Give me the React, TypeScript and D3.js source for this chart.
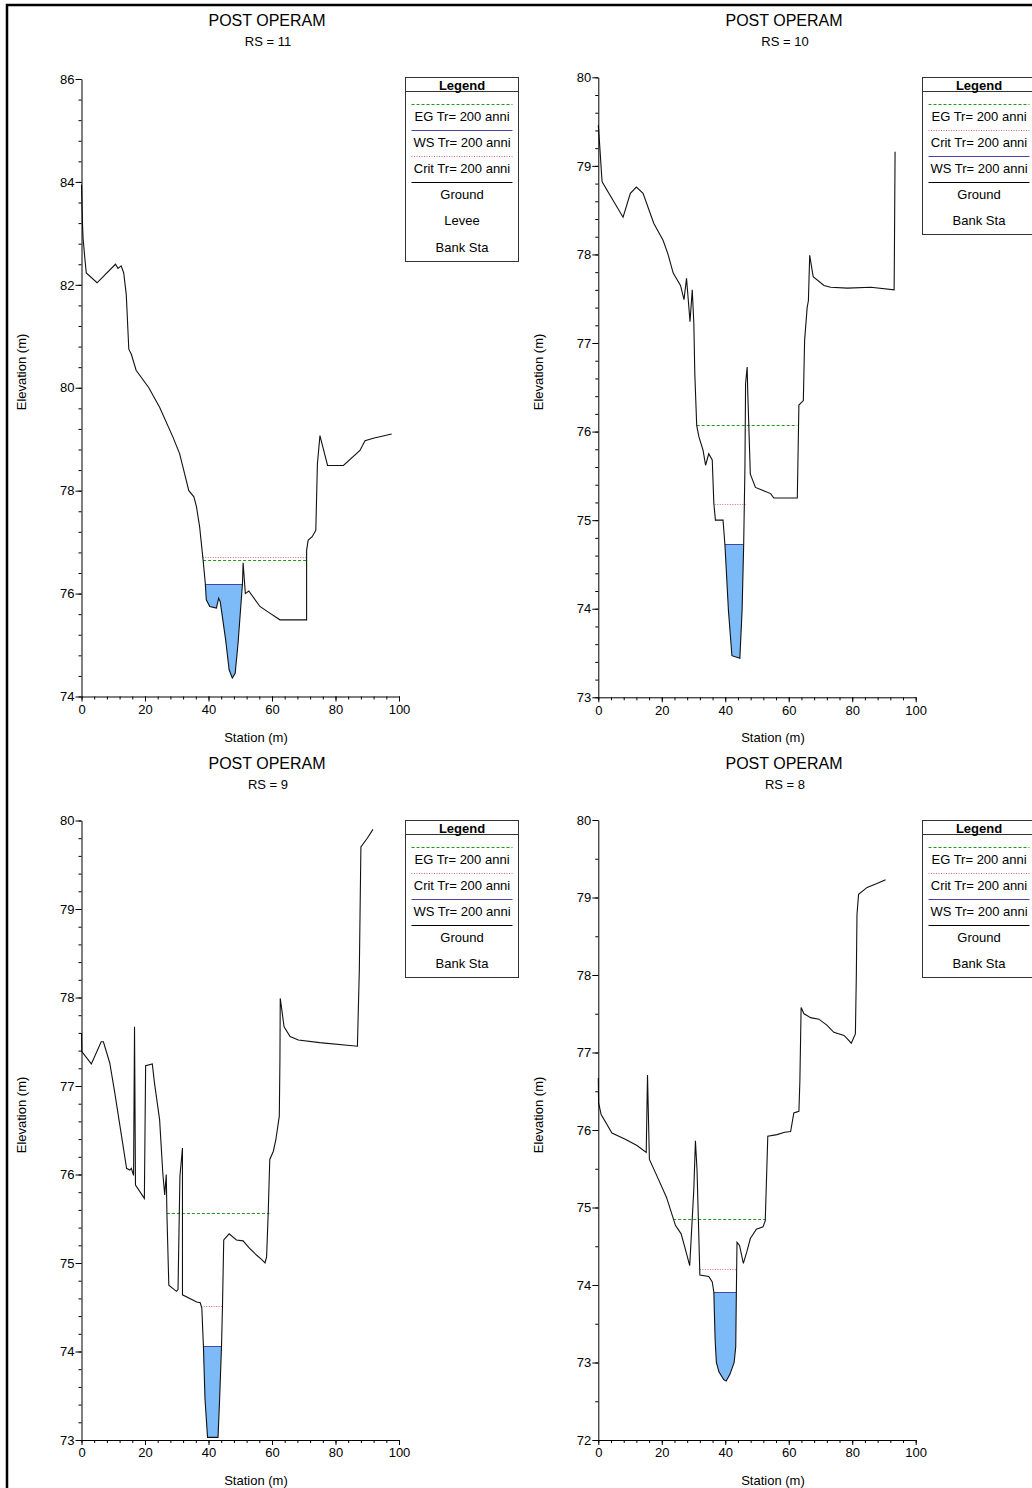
import React, { useEffect, useRef } from 'react';
import * as d3 from 'd3';

// Ground profiles, one pair of arrays per river station (station m, elevation m)
const rs11Station = [0, 0.3, 0.5, 1.0, 1.5, 4.9, 10.7, 11.5, 12.5, 13.3, 14.1, 14.9, 15.7, 17.2, 21.2, 24.6, 28.8, 30.9, 33.8, 35.4, 36.2, 37.2, 38.3, 39.0, 39.3, 40.4, 42.5, 43.2, 43.7, 45.4, 46.5, 47.5, 48.4, 49.3, 50.7, 50.9, 51.6, 52.7, 56.2, 59.3, 62.5, 70.9, 70.9, 71.4, 72.6, 73.8, 74.3, 75.1, 77.5, 82.5, 87.7, 89.3, 91.9, 97.7];
const rs11Elevation = [83.95, 83.2, 82.9, 82.55, 82.23, 82.04, 82.4, 82.32, 82.37, 82.23, 81.81, 80.75, 80.65, 80.34, 80.0, 79.62, 79.04, 78.72, 78.0, 77.88, 77.69, 77.3, 76.65, 76.19, 75.88, 75.75, 75.72, 75.91, 75.84, 75.1, 74.52, 74.36, 74.45, 75.03, 76.19, 76.6, 76.0, 76.05, 75.75, 75.62, 75.49, 75.49, 76.84, 77.04, 77.1, 77.23, 78.52, 79.07, 78.49, 78.49, 78.78, 78.97, 79.02, 79.1];

const rs10Station = [0, 0.5, 1.0, 1.2, 7.8, 10.1, 12.0, 14.1, 17.5, 20.4, 21.9, 23.6, 25.9, 27.0, 27.8, 28.9, 29.6, 30.1, 30.4, 31.0, 31.7, 33.0, 33.8, 34.8, 35.9, 36.4, 36.9, 39.3, 39.9, 41.0, 42.1, 44.6, 45.3, 45.8, 46.2, 46.4, 46.9, 47.1, 47.9, 49.5, 54.3, 55.3, 62.7, 63.2, 64.6, 65.0, 65.8, 66.2, 66.6, 67.7, 71.1, 73.2, 78.5, 85.9, 93.2, 93.3, 93.5];
const rs10Elevation = [79.46, 79.2, 78.92, 78.82, 78.42, 78.69, 78.76, 78.69, 78.35, 78.16, 78.01, 77.79, 77.65, 77.49, 77.73, 77.24, 77.6, 77.22, 76.66, 76.07, 75.94, 75.79, 75.62, 75.75, 75.68, 75.19, 75.0, 75.0, 74.72, 73.98, 73.47, 73.44, 73.98, 74.72, 75.6, 76.54, 76.73, 76.43, 75.52, 75.37, 75.3, 75.25, 75.25, 76.3, 76.35, 77.03, 77.4, 77.48, 77.99, 77.75, 77.65, 77.63, 77.62, 77.63, 77.6, 78.05, 79.16];

const rs9Station = [0, 0.1, 3.1, 6.2, 6.9, 8.9, 10.5, 14.2, 15.2, 15.7, 16.4, 16.7, 17.0, 19.8, 20.2, 22.3, 23.0, 24.6, 25.6, 26.2, 26.7, 26.9, 27.5, 29.9, 30.4, 31.0, 31.8, 31.8, 36.3, 37.4, 37.9, 38.4, 38.9, 39.7, 43.0, 43.5, 44.1, 44.4, 44.8, 46.5, 48.8, 50.9, 52.8, 55.1, 56.7, 57.8, 58.3, 58.8, 59.3, 60.4, 61.2, 62.3, 62.5, 62.6, 63.8, 65.7, 68.3, 75.0, 86.9, 87.5, 88.0, 90.0, 91.8];
const rs9Elevation = [77.6, 77.39, 77.25, 77.5, 77.5, 77.26, 76.92, 76.07, 76.05, 76.07, 75.99, 77.67, 75.88, 75.73, 77.23, 77.25, 77.03, 76.62, 76.02, 75.77, 76.0, 75.56, 74.75, 74.68, 74.7, 75.98, 76.3, 74.64, 74.56, 74.55, 74.49, 74.06, 73.46, 73.03, 73.03, 73.46, 74.06, 74.51, 75.26, 75.33, 75.26, 75.25, 75.17, 75.09, 75.04, 75.0, 75.07, 75.56, 76.17, 76.26, 76.39, 76.66, 77.3, 77.99, 77.67, 77.56, 77.52, 77.49, 77.45, 78.3, 79.7, 79.8, 79.9];

const rs8Station = [0, 0.1, 0.9, 4.3, 8.5, 12.2, 15.1, 15.5, 16.1, 18.0, 21.5, 24.3, 26.1, 27.5, 28.8, 30.1, 30.6, 31.1, 32.0, 34.8, 35.9, 36.4, 36.8, 37.2, 38.0, 39.5, 40.3, 41.5, 42.8, 43.3, 43.5, 43.7, 44.5, 45.7, 46.8, 47.9, 49.8, 51.9, 52.6, 53.4, 56.3, 58.7, 60.6, 61.6, 63.2, 63.5, 63.9, 64.8, 66.9, 69.5, 72.1, 74.2, 77.4, 78.4, 79.7, 81.0, 81.3, 81.5, 82.0, 84.7, 87.8, 90.5];
const rs8Elevation = [76.67, 76.35, 76.2, 75.96, 75.88, 75.8, 75.71, 76.71, 75.62, 75.45, 75.13, 74.77, 74.66, 74.45, 74.25, 75.24, 75.86, 75.49, 74.13, 74.11, 74.04, 73.91, 73.3, 73.0, 72.88, 72.78, 72.76, 72.85, 73.0, 73.2, 73.91, 74.55, 74.51, 74.28, 74.43, 74.6, 74.72, 74.75, 74.83, 75.92, 75.94, 75.97, 75.98, 76.22, 76.24, 76.62, 77.58, 77.5, 77.45, 77.43, 77.35, 77.26, 77.22, 77.18, 77.12, 77.24, 78.01, 78.78, 79.04, 79.13, 79.18, 79.23];

// Water levels (Tr = 200 anni) and the stations where each level meets the ground
const riverStations = ['11', '10', '9', '8'];
const egLevels = [76.66, 76.08, 75.57, 74.85];
const egExtents = [[38.3, 70.9], [31.0, 62.7], [26.9, 59.2], [23.6, 52.6]];
const critLevels = [76.72, 75.18, 74.51, 74.21];
const critExtents = [[38.2, 70.9], [36.7, 46.4], [37.7, 44.3], [32.0, 43.5]];
const wsLevels = [76.18, 74.73, 74.06, 73.91];
const wsExtents = [[39.0, 50.8], [39.9, 45.8], [38.4, 44.1], [36.4, 43.5]];

// Axes
const elevationDomains = [[74, 86], [73, 80], [73, 80], [72, 80]];
const elevationMajorStep = [2, 1, 1, 1];
const elevationMinorStep = [0.4, 0.2, 0.2, 0.5];
const stationTicks = [0, 20, 40, 60, 80, 100];

// Legends
const legendRS11 = ['EG Tr= 200 anni', 'WS Tr= 200 anni', 'Crit Tr= 200 anni', 'Ground', 'Levee', 'Bank Sta'];
const legendOthers = ['EG Tr= 200 anni', 'Crit Tr= 200 anni', 'WS Tr= 200 anni', 'Ground', 'Bank Sta'];

const FONT = '"Liberation Sans", Arial, sans-serif';
const WATER = '#7dbbf8';
const EG_COLOR = '#1f9a1f';
const WS_COLOR = '#4646a8';
const CRIT_COLOR = '#e06a6a';

const profiles = [
  [rs11Station, rs11Elevation],
  [rs10Station, rs10Elevation],
  [rs9Station, rs9Elevation],
  [rs8Station, rs8Elevation],
];
const legends = [legendRS11, legendOthers, legendOthers, legendOthers];

// plot box (pixels) for each panel: [left, right, top, bottom]
const boxes = [
  [81.5, 399, 79, 696.5],
  [598.3, 915.7, 77.3, 697.3],
  [81.5, 399, 820.5, 1440],
  [598.3, 915.7, 820, 1440],
];

// snap a horizontal line to the pixel grid so thin dashes stay crisp
const crisp = (v: number) => Math.round(v) + 0.5;

const lineStyle = (label: string) => {
  if (label.startsWith('EG')) return { stroke: EG_COLOR, dash: '3,2' };
  if (label.startsWith('WS')) return { stroke: WS_COLOR, dash: null };
  if (label.startsWith('Crit')) return { stroke: CRIT_COLOR, dash: '1,1.5' };
  if (label === 'Ground') return { stroke: '#000', dash: null };
  return null;
};

const App = () => {
  const ref = useRef<SVGSVGElement>(null);

  useEffect(() => {
    const svg = d3.select(ref.current);
    svg.selectAll('*').remove();

    // outer frame
    svg.append('rect')
      .attr('x', 7).attr('y', 5)
      .attr('width', 1100).attr('height', 1600)
      .attr('fill', 'none').attr('stroke', '#000').attr('stroke-width', 2.5);

    const defs = svg.append('defs');

    profiles.forEach(([stations, elevs], i) => {
      const col = i % 2;
      const row = Math.floor(i / 2);
      const ox = col * 517;
      const oy = row * 743;
      const [left, right, top, bottom] = boxes[i];
      const domain = elevationDomains[i];

      const x = d3.scaleLinear().domain([0, 100]).range([left, right]);
      const y = d3.scaleLinear().domain(domain).range([bottom, top]);
      const pts = stations.map((s, k) => [s, elevs[k]] as [number, number]);

      const g = svg.append('g');

      // titles
      g.append('text').attr('x', 267 + ox).attr('y', 26 + oy)
        .attr('text-anchor', 'middle').attr('font-size', 16).attr('font-family', FONT)
        .text('POST OPERAM');
      g.append('text').attr('x', 268 + ox).attr('y', 46 + oy)
        .attr('text-anchor', 'middle').attr('font-size', 13).attr('font-family', FONT)
        .text(`RS = ${riverStations[i]}`);

      // axis titles
      g.append('text').attr('x', 256 + ox).attr('y', 742 + oy)
        .attr('text-anchor', 'middle').attr('font-size', 13).attr('font-family', FONT)
        .text('Station (m)');
      g.append('text')
        .attr('transform', `translate(${26 + ox},${372 + oy}) rotate(-90)`)
        .attr('text-anchor', 'middle').attr('font-size', 13).attr('font-family', FONT)
        .text('Elevation (m)');

      // water fill: area between WS and ground, clipped to the wetted extent
      const ws = wsLevels[i];
      const [w0, w1] = wsExtents[i];
      const clipId = `ws-clip-${i}`;
      defs.append('clipPath').attr('id', clipId).append('rect')
        .attr('x', x(w0)).attr('y', crisp(y(ws)))
        .attr('width', x(w1) - x(w0)).attr('height', y(domain[0]) - y(ws));
      const area = d3.area<[number, number]>()
        .x(d => x(d[0]))
        .y0(crisp(y(ws)))
        .y1(d => y(d[1]));
      g.append('path').datum(pts).attr('d', area)
        .attr('fill', WATER).attr('clip-path', `url(#${clipId})`);

      // water levels
      const level = (lv: number, ext: number[], color: string, dash: string | null) => {
        const l = g.append('line')
          .attr('x1', x(ext[0])).attr('x2', x(ext[1]))
          .attr('y1', crisp(y(lv))).attr('y2', crisp(y(lv)))
          .attr('stroke', color).attr('stroke-width', 1);
        if (dash) l.attr('stroke-dasharray', dash);
      };
      level(critLevels[i], critExtents[i], CRIT_COLOR, '1,1.5');
      level(egLevels[i], egExtents[i], EG_COLOR, '3,2');
      level(ws, wsExtents[i], WS_COLOR, null);

      // ground
      const line = d3.line<[number, number]>().x(d => x(d[0])).y(d => y(d[1]));
      g.append('path').datum(pts).attr('d', line)
        .attr('fill', 'none').attr('stroke', '#111').attr('stroke-width', 1.1);

      // y axis: major and minor ticks
      const major = d3.range(domain[0], domain[1] + 1e-9, elevationMajorStep[i]);
      const minor = d3.range(domain[0], domain[1] + 1e-9, elevationMinorStep[i]);
      g.append('g').attr('transform', `translate(${left},0)`)
        .call(d3.axisLeft(y).tickValues(minor).tickSize(3).tickSizeOuter(0).tickFormat(() => ''))
        .call(a => a.select('.domain').remove());
      g.append('g').attr('transform', `translate(${left},0)`)
        .call(d3.axisLeft(y).tickValues(major).tickSize(6).tickSizeOuter(0).tickPadding(1).tickFormat(d3.format('d')))
        .attr('font-size', 13).attr('font-family', FONT);

      // x axis: major and minor ticks
      g.append('g').attr('transform', `translate(0,${bottom})`)
        .call(d3.axisBottom(x).tickValues(d3.range(0, 100.001, 4)).tickSize(3).tickSizeOuter(0).tickFormat(() => ''))
        .call(a => a.select('.domain').remove());
      g.append('g').attr('transform', `translate(0,${bottom})`)
        .call(d3.axisBottom(x).tickValues(stationTicks).tickSize(5).tickSizeOuter(0).tickPadding(3).tickFormat(d3.format('d')))
        .attr('font-size', 13).attr('font-family', FONT);

      // legend
      const items = legends[i];
      const lx = 405.5 + col * 517;
      const ly = 77.5 + oy;
      const lw = 113;
      const lh = Math.round(52.5 + 26.2 * (items.length - 1));
      const lg = g.append('g');
      lg.append('rect').attr('x', lx).attr('y', ly).attr('width', lw).attr('height', lh)
        .attr('fill', '#fff').attr('stroke', '#333').attr('stroke-width', 1);
      lg.append('line').attr('x1', lx).attr('x2', lx + lw)
        .attr('y1', ly + 14).attr('y2', ly + 14).attr('stroke', '#333');
      lg.append('text').attr('x', lx + lw / 2).attr('y', ly + 12)
        .attr('text-anchor', 'middle').attr('font-size', 13).attr('font-weight', 'bold')
        .attr('font-family', FONT).text('Legend');
      items.forEach((label, k) => {
        const sy = crisp(ly + 26 + 26.2 * k);
        const st = lineStyle(label);
        if (st) {
          const l = lg.append('line').attr('x1', lx + 6).attr('x2', lx + lw - 6)
            .attr('y1', sy).attr('y2', sy).attr('stroke', st.stroke).attr('stroke-width', 1);
          if (st.dash) l.attr('stroke-dasharray', st.dash);
        }
        lg.append('text').attr('x', lx + lw / 2).attr('y', sy + 16)
          .attr('text-anchor', 'middle').attr('font-size', 13).attr('font-family', FONT)
          .text(label);
      });
    });
  }, []);

  return (
    <svg
      ref={ref}
      width={1032}
      height={1488}
      style={{ position: 'absolute', left: 0, top: 0, background: '#fff' }}
    />
  );
};

export default App;
